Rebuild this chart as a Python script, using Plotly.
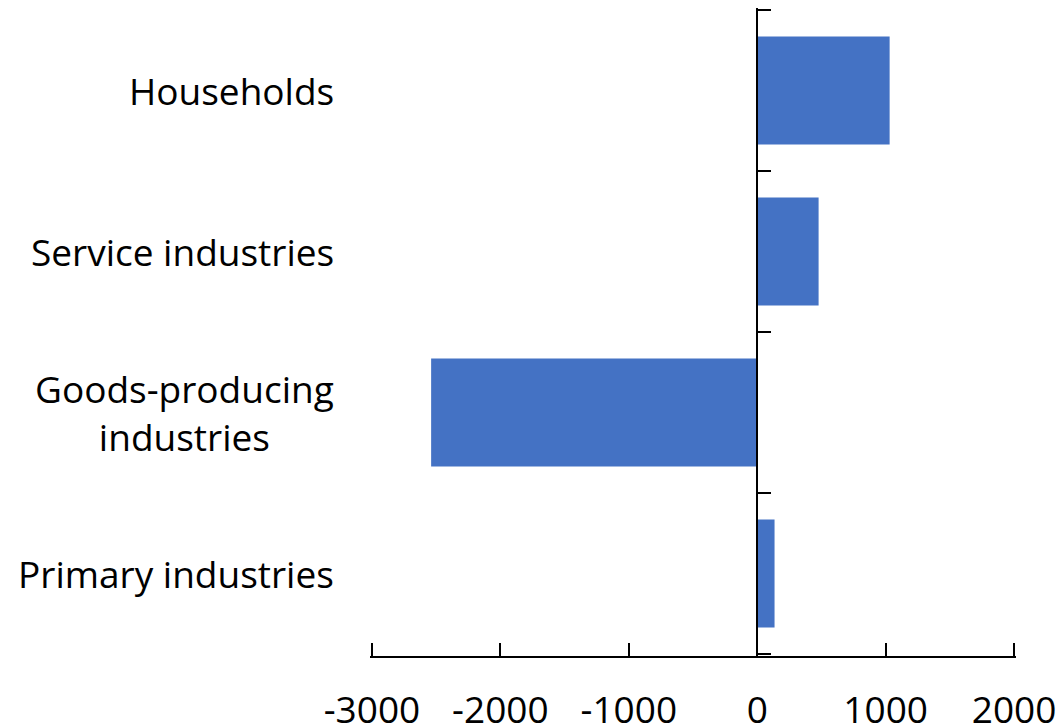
import plotly.graph_objects as go

categories = ["Primary industries", "Goods-producing industries", "Service industries", "Households"]
label_text = ["Primary industries", "Goods-producing<br>industries", "Service industries", "Households"]
values = [135, -2539, 478, 1031]
x_ticks = [-3000, -2000, -1000, 0, 1000, 2000]

positions = list(range(len(categories)))
boundaries = [p - 0.5 for p in positions] + [positions[-1] + 0.5]

# small padding so that plotly keeps the ticks at the very ends of the axes
x_range = [-3015, 2015]
y_range = [boundaries[0] - 0.0125, boundaries[-1] + 0.0125]
zero_pos = (0 - x_range[0]) / (x_range[1] - x_range[0])

FONT = "Open Sans"
fig = go.Figure()
fig.add_trace(go.Bar(
    y=positions, x=values, orientation="h",
    marker=dict(color="#4472C4", line=dict(width=0)),
    width=0.67, hovertext=categories,
))

for pos, txt in zip(positions, label_text):
    fig.add_annotation(
        x=0, xref="paper", y=pos, yref="y",
        text=txt, showarrow=False, xanchor="right", align="center",
        xshift=-34, font=dict(family=FONT, size=37, color="#000000"),
    )

fig.update_layout(
    width=1061, height=725,
    margin=dict(l=370, r=45, t=8, b=69),
    paper_bgcolor="white", plot_bgcolor="white",
    showlegend=False,
    font=dict(family=FONT, size=37, color="#000000"),
    xaxis=dict(
        range=x_range, tickvals=x_ticks, ticktext=[str(v) for v in x_ticks],
        showgrid=False, zeroline=False, showline=True, linecolor="black", linewidth=1.5,
        ticks="inside", ticklen=13, tickwidth=1.5, tickcolor="black",
        tickfont=dict(family=FONT, size=37, color="black"),
        ticklabelstandoff=21, automargin=False,
    ),
    yaxis=dict(
        range=y_range, anchor="free", position=zero_pos,
        tickvals=boundaries,
        showgrid=False, zeroline=False, showline=True, linecolor="black", linewidth=1.5,
        ticks="inside", ticklen=13, tickwidth=1.5, tickcolor="black",
        showticklabels=False, automargin=False,
    ),
)

fig.write_html("out.html", post_script="document.body.style.margin='0';",
               config={"displayModeBar": False})
